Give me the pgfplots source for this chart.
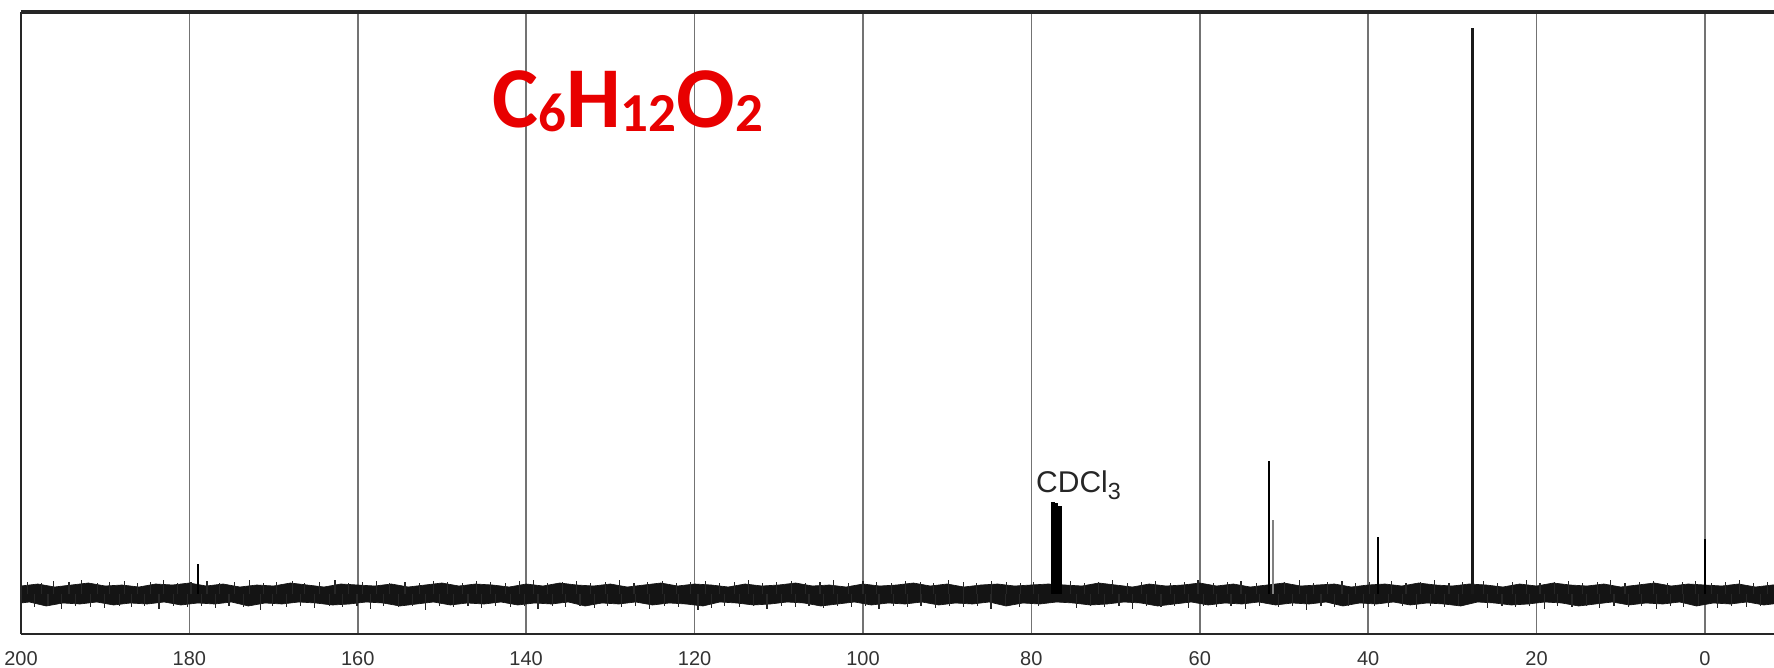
\documentclass[border=0pt]{standalone}
\usepackage{fontspec}
\setmainfont{Liberation Sans}
\newfontfamily\carlito{Carlito}
\usepackage{pgfplots}
\pgfplotsset{compat=1.18}
\definecolor{titlered}{RGB}{232,0,0}
\begin{document}
\begin{tikzpicture}
\begin{axis}[name=ax, scale only axis, width=525.9pt, height=186.6pt,
  x dir=reverse, xmin=-8.2, xmax=200, ymin=-40, ymax=582,
  axis line style={draw=none},
  xtick={0,20,...,200}, ytick=\empty, major tick length=0pt,
  xmajorgrids, grid style={black!55, line width=0.45pt},
  /pgf/number format/assume math mode=true,
  xticklabel style={font=\fontsize{6}{7}\selectfont, text=black!80, yshift=-1.6pt},
  clip=true]
% baseline noise band (upper envelope, then lower envelope)
\addplot[fill=black!92, draw=black!92, line width=0.2pt] coordinates {
(200,8)(198,10)(196,7)(194,9)(192,11)(190,8)(188,9)(186,7)(184,10)(182,9)
(180,11)(178,8)(176,10)(174,7)(172,9)(170,8)(168,11)(166,9)(164,7)(162,10)
(160,9)(158,8)(156,10)(154,7)(152,9)(150,11)(148,8)(146,10)(144,9)(142,7)
(140,10)(138,8)(136,11)(134,9)(132,8)(130,10)(128,7)(126,9)(124,11)(122,8)
(120,10)(118,9)(116,7)(114,10)(112,8)(110,9)(108,11)(106,8)(104,9)(102,7)
(100,10)(98,8)(96,9)(94,11)(92,8)(90,10)(88,7)(86,9)(84,10)(82,8)
(80,9)(78,10)(76,9)(74,8)(72,11)(70,9)(68,7)(66,10)(64,8)(62,9)
(60,11)(58,8)(56,10)(54,7)(52,9)(50,11)(48,8)(46,9)(44,10)(42,7)
(40,9)(38,10)(36,8)(34,11)(32,9)(30,8)(28,10)(26,9)(24,7)(22,10)
(20,8)(18,11)(16,9)(14,8)(12,10)(10,7)(8,9)(6,11)(4,8)(2,10)
(0,9)(-2,8)(-4,10)(-6,7)(-8,9)(-9,9)
(-9,-9)(-7,-11)(-5,-8)(-3,-10)(-1,-9)(1,-12)(3,-8)(5,-10)(7,-9)(9,-11)
(11,-8)(13,-10)(15,-12)(17,-9)(19,-8)(21,-10)(23,-11)(25,-9)(27,-8)(29,-12)
(31,-10)(33,-9)(35,-11)(37,-8)(39,-10)(41,-9)(43,-12)(45,-8)(47,-10)(49,-9)
(51,-11)(53,-8)(55,-10)(57,-9)(59,-11)(61,-8)(63,-10)(65,-12)(67,-9)(69,-8)
(71,-10)(73,-11)(75,-9)(77,-8)(79,-10)(81,-9)(83,-12)(85,-8)(87,-10)(89,-9)
(91,-11)(93,-8)(95,-10)(97,-9)(99,-11)(101,-8)(103,-10)(105,-12)(107,-9)(109,-8)
(111,-10)(113,-11)(115,-9)(117,-8)(119,-12)(121,-10)(123,-9)(125,-11)(127,-8)(129,-10)
(131,-9)(133,-12)(135,-8)(137,-10)(139,-9)(141,-11)(143,-8)(145,-10)(147,-9)(149,-11)
(151,-8)(153,-10)(155,-12)(157,-9)(159,-8)(161,-10)(163,-11)(165,-9)(167,-8)(169,-10)
(171,-9)(173,-12)(175,-8)(177,-10)(179,-9)(181,-11)(183,-8)(185,-10)(187,-9)(189,-11)
(191,-8)(193,-10)(195,-9)(197,-12)(199,-8)(201,-10)(201,8)
};
% noise spikes (up)
\addplot[ycomb, black!85, line width=0.35pt] coordinates {
(199.2,12)(197.6,11)(196.1,13)(194.3,12)(192.8,14)(190.9,11)(189.5,12)(187.7,13)
(186.2,11)(184.6,12)(183.1,14)(181.4,11)(179.8,12)(177.9,13)(176.4,11)(174.6,12)
(172.9,14)(171.2,11)(169.7,12)(167.8,13)(166.3,11)(164.5,12)(162.7,14)(161.1,11)
(159.4,12)(157.8,13)(156.2,11)(154.4,12)(152.7,11)(151.0,13)(149.3,12)(147.6,11)
(145.9,13)(144.2,12)(142.5,11)(140.8,13)(139.1,14)(137.5,11)(135.7,12)(134.0,13)
(132.4,11)(130.6,12)(128.9,14)(127.2,11)(125.6,12)(123.8,13)(122.1,11)(120.5,12)
(118.7,13)(117.0,11)(115.3,12)(113.6,14)(111.9,11)(110.3,12)(108.5,13)(106.8,11)
(105.1,12)(103.5,14)(101.7,11)(100.0,13)(98.4,12)(96.6,11)(94.9,13)(93.2,12)
(91.6,11)(89.8,14)(88.1,12)(86.5,11)(84.7,13)(83.0,12)(81.3,11)(79.7,12)
(75.4,13)(73.7,11)(72.0,12)(70.4,14)(68.6,11)(66.9,12)(65.3,13)(63.5,11)
(61.8,12)(60.2,14)(58.4,11)(56.7,12)(55.1,13)(53.3,11)(49.9,12)(48.2,14)
(46.5,11)(44.8,12)(43.1,13)(41.5,11)(39.8,12)(37.2,13)(35.5,11)(33.8,12)
(32.1,14)(30.4,11)(28.8,12)(26.3,13)(24.6,11)(22.9,12)(21.2,14)(19.6,11)
(17.9,12)(16.2,13)(14.5,11)(12.8,12)(11.2,14)(9.5,11)(7.8,12)(6.1,13)
(4.4,11)(2.7,12)(1.1,13)(-0.8,11)(-2.4,12)(-4.1,14)(-5.8,11)(-7.4,12)
};
% noise spikes (down)
\addplot[ycomb, black!85, line width=0.35pt] coordinates {
(198.4,-13)(196.8,-12)(195.2,-15)(193.5,-12)(191.7,-13)(190.1,-14)(188.3,-12)(186.9,-13)
(185.3,-12)(183.6,-15)(181.9,-12)(180.2,-13)(178.6,-12)(176.9,-14)(175.3,-12)(173.6,-13)
(171.6,-16)(170.1,-12)(168.5,-13)(166.8,-12)(165.1,-14)(163.4,-12)(161.8,-13)(160.1,-12)
(158.5,-15)(156.9,-12)(155.2,-13)(153.5,-12)(152.0,-16)(150.3,-12)(148.6,-13)(146.9,-12)
(145.3,-14)(143.6,-12)(141.9,-13)(140.2,-12)(138.6,-15)(136.9,-12)(135.3,-13)(133.6,-12)
(131.9,-14)(130.3,-12)(128.7,-13)(127.0,-12)(125.4,-15)(123.6,-12)(121.9,-13)(119.6,-16)
(118.0,-14)(116.4,-12)(114.7,-13)(113.0,-12)(111.4,-15)(109.7,-12)(108.0,-13)(106.4,-12)
(104.7,-14)(103.0,-12)(101.4,-13)(99.7,-12)(98.1,-15)(96.4,-12)(94.7,-13)(93.1,-12)
(91.4,-14)(89.7,-12)(88.1,-13)(86.4,-12)(84.8,-15)(83.1,-12)(81.4,-13)(79.2,-12)
(74.6,-14)(73.0,-12)(71.3,-13)(69.6,-12)(68.0,-15)(66.3,-12)(64.6,-13)(63.0,-12)
(61.3,-14)(59.6,-12)(58.0,-13)(56.3,-12)(54.6,-15)(52.9,-12)(50.6,-13)(49.0,-12)
(47.3,-16)(45.6,-12)(44.0,-13)(42.3,-12)(40.6,-14)(39.2,-12)(37.6,-13)(35.9,-12)
(34.3,-15)(32.6,-12)(30.9,-13)(29.3,-12)(25.8,-14)(24.1,-12)(22.5,-13)(20.8,-12)
(19.1,-15)(17.5,-12)(15.8,-13)(14.1,-12)(12.5,-14)(10.8,-12)(9.1,-13)(7.5,-12)
(5.8,-15)(4.1,-12)(2.5,-13)(0.8,-12)(-1.5,-14)(-3.2,-12)(-4.9,-13)(-6.6,-12)
};
% peaks
\addplot[black, line width=0.55pt] coordinates {(179.0,0) (179.0,30)};
\addplot[ycomb, black, line width=1pt] coordinates {(77.45,92) (77.0,91) (76.6,88)};
\addplot[gray, line width=0.6pt] coordinates {(51.3,0) (51.3,74)};
\addplot[black, line width=0.6pt] coordinates {(51.8,0) (51.8,133)};
\addplot[black, line width=0.6pt] coordinates {(38.8,0) (38.8,57)};
\addplot[black!90, line width=0.9pt] coordinates {(27.55,0) (27.55,566)};
\addplot[black, line width=0.6pt] coordinates {(0.0,0) (0.0,55)};
% labels
\node[anchor=base west, inner sep=0pt, text=black!85] at (axis cs:79.5,101)
  {\fontsize{9}{10}\selectfont CDCl\raisebox{-2pt}{\fontsize{7}{8}\selectfont 3}};
\node[anchor=base west, inner sep=0pt, text=titlered] at (axis cs:144.1,466)
  {\carlito\bfseries\fontsize{26}{30}\selectfont C\raisebox{-1pt}{\fontsize{16.5}{18}\selectfont 6}H\raisebox{-1pt}{\fontsize{16.5}{18}\selectfont 12}O\raisebox{-1pt}{\fontsize{16.5}{18}\selectfont 2}};
\end{axis}
\draw[line width=1pt, black!85] (ax.north west) -- (ax.north east);
\draw[line width=0.6pt, black!85] (ax.north west) -- (ax.south west);
\draw[line width=0.6pt, black!85] (ax.south west) -- (ax.south east);
\pgfresetboundingbox
\path ([xshift=-6.3pt, yshift=-10.2pt]ax.south west) rectangle ([yshift=3.6pt]ax.north east);
\end{tikzpicture}
\end{document}
